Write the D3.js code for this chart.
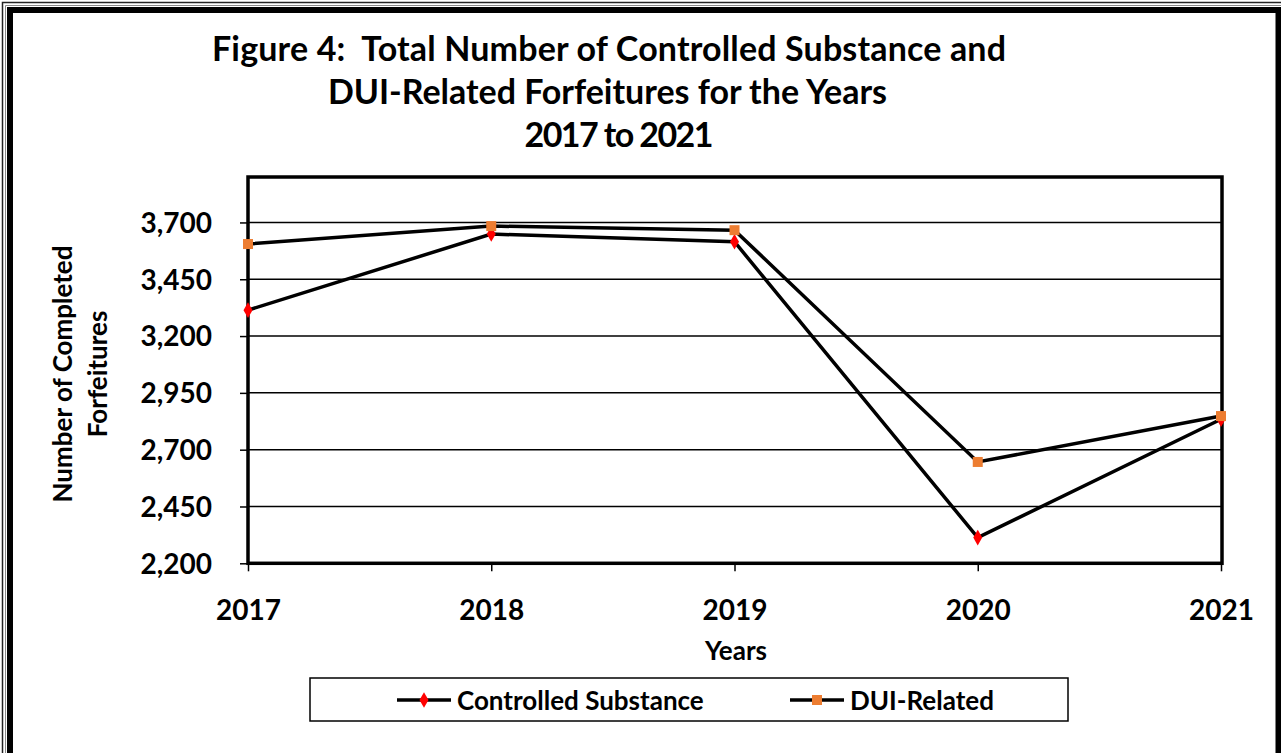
<!DOCTYPE html>
<html><head><meta charset="utf-8">
<script src="https://cdn.jsdelivr.net/npm/d3@7"></script>
<style>html,body{margin:0;padding:0;background:#fff;}svg{display:block;}</style>
</head><body>
<script>
const years = ["2017","2018","2019","2020","2021"];
const controlledSubstance = [3314, 3649, 3615, 2313, 2834];
const duiRelated = [3605, 3684, 3666, 2646, 2848];
const yTickValues = [2200, 2450, 2700, 2950, 3200, 3450, 3700];
const titleLines = ["Figure 4:  Total Number of Controlled Substance and", "DUI-Related Forfeitures for the Years", "2017 to 2021"];
const seriesNames = ["Controlled Substance", "DUI-Related"];

const W = 1281, H = 753;
const FONT = "Lato, 'Open Sans', sans-serif";
const svg = d3.select("body").append("svg").attr("width", W).attr("height", H);
svg.append("rect").attr("width", W).attr("height", H).attr("fill", "#fff");

// outer frame
svg.append("path").attr("d", `M2.5,${H} V2.5 H${W}`).attr("fill","none").attr("stroke","#222").attr("stroke-width",1.5);
svg.append("path").attr("d", `M5.5,${H} V5.5 H${W}`).attr("fill","none").attr("stroke","#888").attr("stroke-width",1);
svg.append("path").attr("d", `M10,${H} V10 H1278.5 V${H}`).attr("fill","none").attr("stroke","#000").attr("stroke-width",6);

const L = 248, R = 1222, T = 177, B = 563.3;
const x = d3.scalePoint().domain(years).range([L, 1221]);
const y = d3.scaleLinear().domain([2200, 3900]).range([B, T]);

// title
const titleGeom = [{cx: 609, w: 794, by: 61}, {cx: 607.5, w: 559, by: 104}, {cx: 619, w: 189, by: 147}];
svg.append("g").selectAll("text").data(titleLines).join("text")
  .attr("x", (d,i)=>titleGeom[i].cx - titleGeom[i].w/2).attr("y", (d,i)=>titleGeom[i].by)
  .attr("textLength",(d,i)=>titleGeom[i].w).attr("lengthAdjust","spacing")
  .style("white-space","pre")
  .attr("font-family",FONT).attr("font-weight","bold")
  .attr("font-size",34).attr("fill","#000").text(d=>d);

// gridlines
svg.append("g").selectAll("line").data(yTickValues.slice(1)).join("line")
  .attr("x1", L).attr("x2", R).attr("y1", d=>y(d)).attr("y2", d=>y(d))
  .attr("stroke","#000").attr("stroke-width",1.5);

// y axis
const yAxis = d3.axisLeft(y).tickValues(yTickValues).tickSize(8).tickPadding(28)
  .tickFormat(d3.format(","));
const gy = svg.append("g").attr("transform",`translate(${L},0)`).call(yAxis);
gy.select(".domain").remove();
gy.selectAll("line").attr("stroke","#000").attr("stroke-width",1.5);
gy.selectAll("text").attr("font-family",FONT).attr("font-weight","bold").attr("font-size",28).attr("fill","#000").attr("dy","0.35em");

// x axis
const xAxis = d3.axisBottom(x).tickSize(8);
const gx = svg.append("g").attr("transform",`translate(0,${B})`).call(xAxis);
gx.select(".domain").remove();
gx.selectAll("line").attr("stroke","#000").attr("stroke-width",1.5);
gx.selectAll("text").attr("y", 57).attr("dy", 0).attr("font-family",FONT).attr("font-weight","bold").attr("font-size",28).attr("fill","#000");

// plot border
svg.append("rect").attr("x",L).attr("y",T).attr("width",R-L).attr("height",B-T)
  .attr("fill","none").attr("stroke","#000").attr("stroke-width",3.5);

// axis titles
svg.append("text").attr("x",736).attr("y",660).attr("text-anchor","middle")
  .attr("font-family",FONT).attr("font-weight","bold").attr("font-size",26).text("Years");
const yt = svg.append("text").attr("transform","translate(72,374) rotate(-90)")
  .attr("text-anchor","middle").attr("font-family",FONT).attr("font-weight","bold").attr("font-size",26);
yt.append("tspan").attr("x",0).attr("dy",0).text("Number of Completed");
yt.append("tspan").attr("x",0).attr("dy",35).text("Forfeitures");

// series
const line = d3.line().x((d,i)=>x(years[i])).y(d=>y(d));
const series = [
  {name: seriesNames[0], values: controlledSubstance, sym: d3.symbolDiamond, color:"#FF0000", size:70},
  {name: seriesNames[1], values: duiRelated, sym: d3.symbolSquare, color:"#ED7D31", size:100}
];
series.forEach(s=>{
  svg.append("path").datum(s.values).attr("d",line).attr("fill","none")
    .attr("stroke","#000").attr("stroke-width",3.5).attr("stroke-linejoin","miter");
});
series.forEach(s=>{
  svg.append("g").selectAll("path").data(s.values).join("path")
    .attr("transform",(d,i)=>`translate(${x(years[i])},${y(d)})`)
    .attr("d", d3.symbol().type(s.sym).size(s.size)).attr("fill",s.color);
});

// legend
svg.append("rect").attr("x",310).attr("y",678).attr("width",758).attr("height",43)
  .attr("fill","#fff").attr("stroke","#000").attr("stroke-width",1.5);
const legX = [397, 790];
series.forEach((s,i)=>{
  const g = svg.append("g").attr("transform",`translate(${legX[i]},700)`);
  g.append("line").attr("x1",0).attr("x2",54).attr("stroke","#000").attr("stroke-width",3.5);
  g.append("path").attr("transform","translate(27,0)").attr("d",d3.symbol().type(s.sym).size(s.size)).attr("fill",s.color);
  g.append("text").attr("x",60).attr("y",9.5).attr("font-family",FONT).attr("font-weight","bold")
    .attr("font-size",26).text(s.name);
});
</script>
</body></html>
